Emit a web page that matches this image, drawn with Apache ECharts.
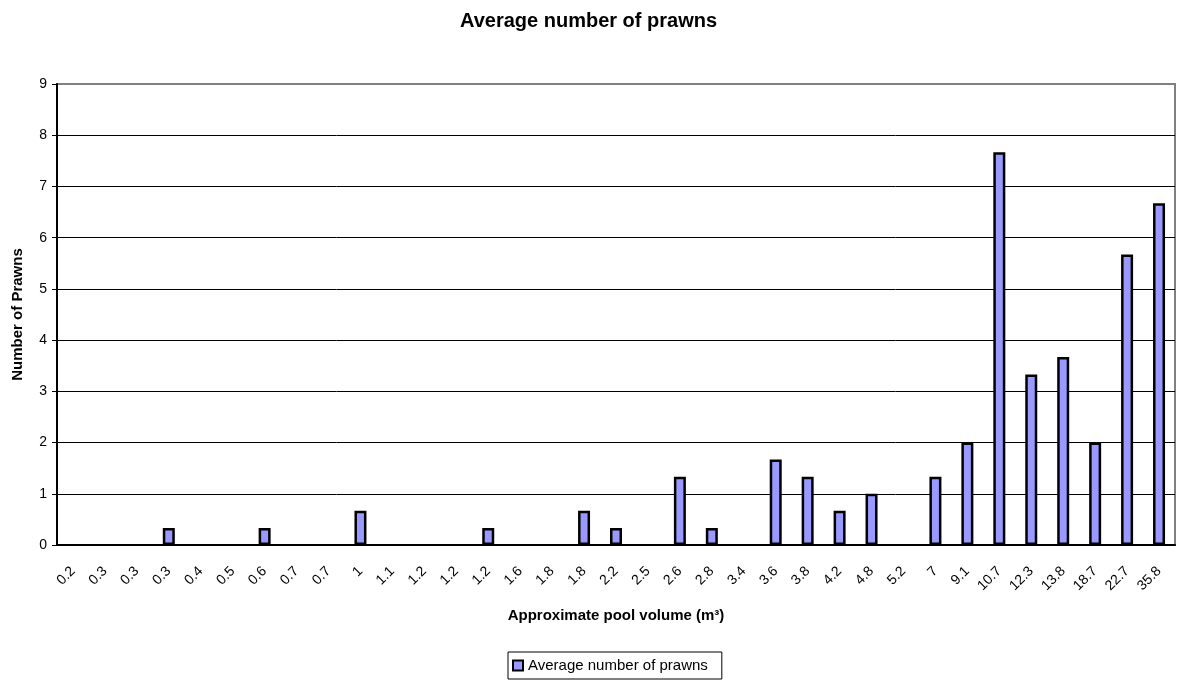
<!DOCTYPE html>
<html>
<head>
<meta charset="utf-8">
<script src="https://cdn.jsdelivr.net/npm/echarts@6/dist/echarts.min.js"></script>
<style>
  html, body { margin: 0; padding: 0; background: #fff; }
  #box { width: 1177px; height: 681px; }
</style>
</head>
<body>
<div id="box"></div>
<script>
var volumes = ['0.2', '0.3', '0.3', '0.3', '0.4', '0.5', '0.6', '0.7', '0.7', '1', '1.1', '1.2',
    '1.2', '1.2', '1.6', '1.8', '1.8', '2.2', '2.5', '2.6', '2.8', '3.4', '3.6', '3.8',
    '4.2', '4.8', '5.2', '7', '9.1', '10.7', '12.3', '13.8', '18.7', '22.7', '35.8'];
var prawns = [0, 0, 0, 0.33, 0, 0, 0.33, 0, 0, 0.67, 0, 0,
    0, 0.33, 0, 0, 0.67, 0.33, 0, 1.33, 0.33, 0, 1.67, 1.33,
    0.67, 1, 0, 1.33, 2, 7.67, 3.33, 3.67, 2, 5.67, 6.67];
var yTicks = [0, 9, 1]; // min, max, interval

var font = '"Liberation Sans", Arial, sans-serif';
var chart = echarts.init(document.getElementById('box'));
var option = {
    animation: false,
    title: {
        text: 'Average number of prawns',
        left: 'center',
        top: 6,
        textStyle: { fontFamily: font, fontSize: 20, fontWeight: 'bold', color: '#000' }
    },
    legend: {
        data: ['Average number of prawns'],
        left: 508,
        top: 652,
        padding: [6, 14, 6, 4],
        borderColor: '#000',
        borderWidth: 1,
        itemWidth: 10,
        itemHeight: 10,
        icon: 'rect',
        textStyle: { fontFamily: font, fontSize: 15, color: '#000' }
    },
    grid: {
        left: 57, right: 2, top: 84, bottom: 136,
        show: true,
        borderColor: '#808080',
        borderWidth: 2,
        backgroundColor: '#fff'
    },
    xAxis: {
        type: 'category',
        data: volumes,
        name: 'Approximate pool volume (m³)',
        nameLocation: 'middle',
        nameGap: 63,
        nameTextStyle: { fontFamily: font, fontSize: 15, fontWeight: 'bold', color: '#000' },
        axisLine: { lineStyle: { color: '#000', width: 2 } },
        axisTick: { length: 5, lineStyle: { color: '#000' } },
        axisLabel: {
            interval: 0,
            rotate: 45,
            margin: 24,
            fontFamily: font,
            fontSize: 14,
            color: '#000'
        }
    },
    yAxis: {
        type: 'value',
        min: yTicks[0],
        max: yTicks[1],
        interval: yTicks[2],
        name: 'Number of Prawns',
        nameLocation: 'middle',
        nameRotate: 90,
        nameGap: 32,
        nameTextStyle: { fontFamily: font, fontSize: 15, fontWeight: 'bold', color: '#000' },
        axisLine: { show: true, lineStyle: { color: '#000', width: 2 } },
        axisTick: { show: true, length: 5, lineStyle: { color: '#000' } },
        axisLabel: { margin: 10, fontFamily: font, fontSize: 14, color: '#000' },
        splitLine: { show: true, showMaxLine: false, lineStyle: { color: '#000', width: 1 } }
    },
    series: [
        {
            name: 'Average number of prawns',
            type: 'bar',
            // zero-height bars are left empty, as in the original
            data: prawns.map(function (v) { return v === 0 ? '-' : v; }),
            barWidth: 12,
            itemStyle: { color: '#9999FF', borderColor: '#000', borderWidth: 2.5 }
        }
    ]
};
chart.setOption(option);
</script>
</body>
</html>
